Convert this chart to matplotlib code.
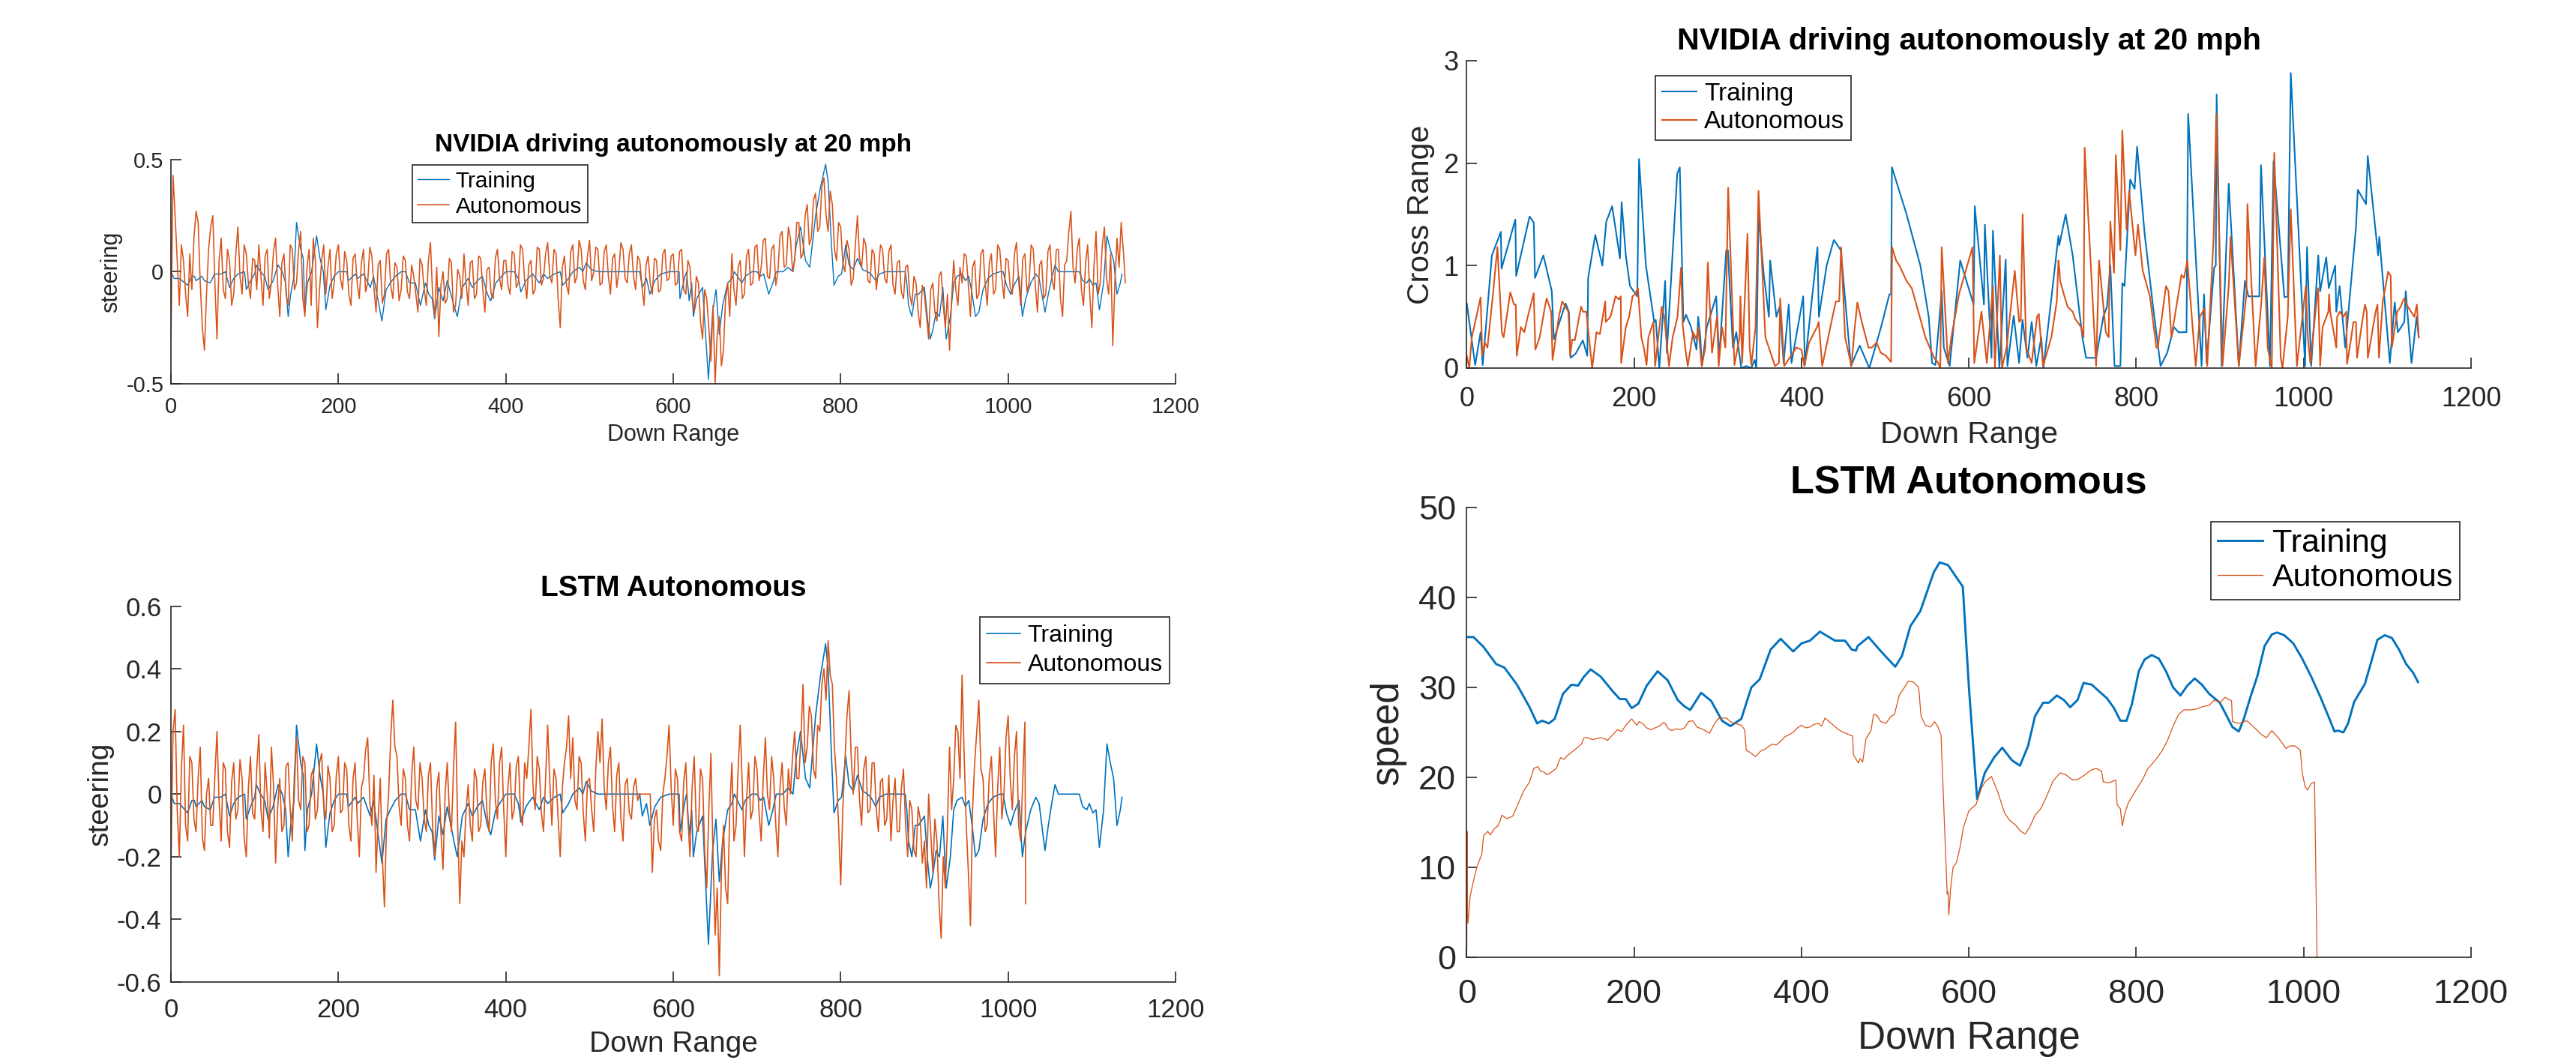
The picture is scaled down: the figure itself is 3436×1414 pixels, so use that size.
import matplotlib
matplotlib.use("Agg")
import matplotlib.pyplot as plt
import numpy as np

plt.rcParams['font.family'] = ['Liberation Sans', 'DejaVu Sans']
plt.rcParams['axes.unicode_minus'] = False

BLUE = '#0072BD'
ORANGE = '#D95319'
GREY = '#262626'

# ---------------- data ----------------
# training steering (same recording is shown in both steering panels)
train_steer = [
    (0, 0.0), (4, -0.03), (10, -0.03), (20, -0.06), (25, -0.02), (28, -0.02), (30, -0.04),
    (37, -0.02), (40, -0.04), (47, -0.05), (52, -0.01), (60, -0.01), (65, 0.0), (70, -0.07),
    (75, -0.03), (80, -0.01), (88, 0.0), (90, -0.08), (95, -0.04), (100, -0.01), (102, 0.03),
    (107, 0.0), (112, -0.02), (116, -0.08), (122, -0.04), (128, 0.03), (133, 0.0), (137, -0.05),
    (140, -0.2), (143, -0.1), (147, -0.02), (150, 0.22), (155, 0.1), (158, 0.06), (160, -0.18),
    (163, -0.05), (168, 0.0), (174, 0.16), (178, 0.06), (182, 0.0), (185, -0.17), (190, -0.06),
    (195, -0.02), (200, 0.0), (210, 0.0), (212, -0.04), (220, -0.01), (223, -0.03), (230, -0.01),
    (238, -0.07), (242, -0.02), (252, -0.22), (257, -0.08), (262, -0.05), (268, -0.02), (275, 0.0),
    (280, 0.0), (285, -0.05), (292, -0.05), (298, -0.15), (304, -0.05), (308, -0.1), (312, -0.12),
    (315, -0.21), (320, -0.07), (325, -0.13), (330, -0.04), (338, -0.15), (342, -0.2), (348, -0.07),
    (355, -0.03), (360, -0.07), (366, -0.04), (372, -0.02), (378, -0.1), (382, -0.13), (388, -0.05),
    (395, -0.02), (400, 0.0), (410, 0.0), (415, -0.03), (418, -0.09), (424, -0.04), (432, -0.01),
    (440, -0.05), (445, -0.01), (450, -0.03), (458, -0.01), (465, 0.0), (468, -0.06), (475, -0.03),
    (480, 0.0), (488, 0.02), (492, 0.0), (496, 0.04), (502, 0.01), (510, 0.0), (560, 0.0),
    (563, -0.07), (568, -0.03), (572, -0.1), (578, -0.04), (585, -0.01), (595, 0.0), (607, 0.0),
    (608, -0.12), (614, -0.02), (616, 0.0), (619, -0.13), (622, -0.05), (624, -0.2), (628, -0.12),
    (635, -0.07), (642, -0.48), (647, -0.18), (651, -0.08), (655, -0.28), (659, -0.15), (665, -0.05),
    (670, -0.03), (673, 0.0), (682, -0.05), (686, -0.02), (694, 0.0), (700, 0.0), (704, -0.02),
    (708, -0.01), (714, -0.1), (719, -0.05), (723, 0.0), (731, 0.0), (737, 0.02), (743, 0.0),
    (747, 0.12), (752, 0.2), (758, 0.05), (763, 0.02), (766, 0.12), (770, 0.25), (776, 0.38),
    (782, 0.48), (785, 0.4), (789, 0.12), (792, -0.06), (797, -0.02), (801, -0.01), (806, 0.12),
    (810, 0.03), (815, 0.01), (820, 0.06), (826, 0.01), (832, 0.0), (836, -0.01), (842, -0.04),
    (846, -0.01), (854, 0.0), (877, 0.0), (879, -0.05), (881, -0.15), (885, -0.2), (889, -0.1),
    (893, -0.1), (900, -0.07), (904, -0.22), (907, -0.3), (910, -0.26), (914, -0.18), (918, -0.2),
    (922, -0.07), (926, -0.3), (931, -0.2), (935, -0.05), (939, -0.02), (945, -0.01), (949, -0.04),
    (953, -0.02), (957, -0.1), (961, -0.2), (965, -0.18), (970, -0.08), (976, -0.03), (982, -0.01),
    (990, 0.0), (994, 0.0), (998, -0.06), (1003, -0.1), (1007, -0.06), (1013, -0.02), (1017, -0.2),
    (1021, -0.12), (1027, -0.05), (1033, -0.01), (1037, -0.03), (1044, -0.18), (1048, -0.1),
    (1052, -0.03), (1056, 0.03), (1060, 0.0), (1085, 0.0), (1089, -0.04), (1094, -0.05),
    (1097, -0.03), (1101, -0.06), (1105, -0.05), (1109, -0.17), (1114, -0.05), (1118, 0.16),
    (1122, 0.1), (1126, 0.05), (1130, -0.1), (1134, -0.05), (1136, -0.01),
]

# NVIDIA autonomous steering, one sample every 2.5 units of down range (0..1140)
nvidia_auto_steer = [
    -0.30, 0.43, 0.25, 0.05, -0.15, 0.12, 0.05, -0.10, -0.20, 0.08, -0.08, 0.15, 0.27, 0.22, -0.05, -0.25, -0.35, -0.10, 0.10, 0.20,
    0.25, -0.05, -0.30, 0.05, 0.15, -0.08, -0.12, 0.10, 0.05, -0.15, -0.10, 0.08, 0.20, -0.02, -0.10, 0.12, 0.08, -0.05, -0.12, 0.06,
    0.05, -0.08, 0.12, -0.02, -0.15, 0.07, 0.10, -0.12, -0.05, 0.09, 0.15, -0.06, -0.20, 0.04, 0.08, -0.10, -0.15, 0.12, 0.10, -0.08,
    -0.05, 0.10, 0.18, -0.12, -0.20, 0.02, 0.10, -0.15, 0.15, 0.05, -0.25, -0.08, 0.05, 0.12, -0.10, 0.02, 0.10, -0.12, -0.05, 0.08,
    0.12, -0.03, -0.08, 0.09, 0.05, -0.10, -0.15, 0.06, 0.08, -0.05, -0.12, 0.04, 0.10, -0.09, -0.05, 0.11, 0.07, -0.07, -0.18, 0.03,
    0.05, -0.14, -0.10, 0.08, 0.10, -0.06, -0.12, 0.04, 0.02, -0.13, -0.08, 0.07, 0.05, -0.09, -0.12, 0.03, -0.02, -0.10, -0.18, 0.06,
    0.03, -0.08, -0.15, 0.05, 0.13, -0.10, -0.20, 0.02, -0.29, -0.06, 0.00, -0.14, -0.12, 0.06, 0.04, -0.18, -0.15, 0.01, -0.02, -0.12,
    0.08, -0.05, -0.15, 0.04, 0.05, -0.12, -0.10, 0.07, 0.06, -0.08, -0.18, 0.01, 0.02, -0.10, -0.12, 0.06, 0.10, -0.03, -0.08, 0.05,
    0.05, -0.06, -0.10, 0.09, 0.08, -0.07, -0.05, 0.12, 0.10, -0.04, -0.12, 0.03, 0.05, -0.10, -0.08, 0.11, 0.10, -0.06, -0.03, 0.08,
    0.13, -0.02, -0.05, 0.10, 0.08, -0.12, -0.25, 0.02, 0.07, -0.06, -0.10, 0.09, 0.12, -0.05, -0.02, 0.14, 0.10, -0.04, -0.08, 0.07,
    0.14, -0.04, 0.00, 0.11, 0.10, -0.06, -0.05, 0.09, 0.12, -0.02, -0.10, 0.06, 0.08, -0.07, 0.00, 0.13, 0.10, -0.03, -0.05, 0.08,
    0.12, -0.02, -0.08, 0.07, 0.05, -0.06, -0.15, 0.03, 0.07, -0.05, -0.10, 0.06, 0.05, -0.09, -0.08, 0.08, 0.10, -0.04, -0.03, 0.07,
    0.08, -0.06, -0.05, 0.09, 0.10, -0.08, -0.10, 0.05, 0.02, -0.12, -0.18, -0.02, -0.05, -0.22, -0.30, -0.08, -0.12, -0.25, -0.40, -0.15,
    -0.50, -0.28, -0.20, -0.42, -0.35, -0.12, -0.05, -0.20, 0.08, -0.08, -0.15, 0.02, 0.05, -0.12, -0.10, 0.07, 0.10, -0.06, -0.05, 0.11,
    0.12, -0.04, 0.02, 0.14, 0.15, -0.02, -0.03, 0.10, 0.12, -0.06, 0.00, 0.16, 0.18, 0.02, 0.03, 0.20, 0.15, 0.00, 0.05, 0.22,
    0.22, 0.06, 0.08, 0.25, 0.30, 0.12, 0.15, 0.32, 0.35, 0.18, 0.20, 0.38, 0.42, 0.25, 0.18, 0.36, 0.30, 0.10, 0.05, 0.22,
    0.20, 0.04, 0.00, 0.14, 0.10, -0.06, -0.03, 0.12, 0.25, 0.06, 0.02, 0.15, 0.12, -0.04, -0.05, 0.10, 0.08, -0.08, 0.00, 0.12,
    0.10, -0.03, -0.05, 0.09, 0.12, -0.06, -0.10, 0.04, 0.05, -0.09, -0.12, 0.02, 0.03, -0.10, -0.15, -0.02, -0.05, -0.18, -0.25, -0.06,
    -0.10, -0.20, -0.30, -0.08, -0.05, -0.18, -0.22, -0.02, 0.00, -0.15, -0.25, -0.10, -0.35, -0.12, 0.05, -0.08, -0.15, 0.02, -0.05, 0.08,
    0.07, -0.06, -0.20, 0.02, 0.05, -0.12, -0.10, 0.08, 0.10, -0.05, -0.15, 0.04, 0.08, -0.10, -0.08, 0.12, 0.10, -0.03, -0.12, 0.06,
    0.05, -0.07, -0.10, 0.08, 0.13, -0.04, -0.15, 0.06, 0.08, -0.09, -0.05, 0.12, 0.10, -0.06, -0.18, 0.03, 0.05, -0.12, -0.10, 0.09,
    0.12, -0.04, -0.08, 0.10, 0.10, -0.12, -0.20, 0.03, 0.05, 0.18, 0.27, 0.02, -0.05, 0.10, 0.15, -0.08, -0.15, 0.04, 0.12, -0.10,
    -0.25, 0.02, 0.18, -0.10, -0.05, 0.12, 0.20, -0.03, -0.10, 0.08, -0.33, -0.05, 0.15, 0.02, 0.22, 0.10, -0.05,
]

# LSTM autonomous steering, every 2.5 units (0..1020) plus the final sample at 1021
lstm_auto_steer = [
    -0.23, 0.20, 0.27, -0.05, -0.20, 0.08, 0.22, -0.10, -0.15, 0.12, 0.10, -0.08, -0.12, 0.05, 0.15, -0.14, -0.18, 0.00, 0.05, -0.10,
    -0.10, 0.06, 0.20, -0.02, -0.15, 0.10, 0.08, -0.12, -0.17, 0.04, 0.10, -0.08, -0.05, 0.11, 0.05, -0.14, -0.20, 0.02, 0.12, -0.06,
    -0.08, 0.08, 0.19, -0.05, -0.12, 0.10, 0.00, -0.14, 0.15, 0.03, -0.22, -0.04, 0.05, -0.12, -0.10, 0.09, 0.10, -0.05, -0.15, 0.07,
    0.18, -0.02, -0.05, 0.12, 0.10, -0.12, -0.10, 0.06, 0.08, -0.08, -0.05, 0.10, 0.13, -0.04, -0.08, 0.09, 0.05, -0.12, -0.10, 0.06,
    0.12, -0.06, -0.05, 0.10, 0.08, -0.10, -0.15, 0.05, 0.10, -0.08, -0.20, 0.02, 0.05, 0.14, 0.18, -0.02, -0.10, 0.06, -0.25, -0.08,
    0.05, -0.20, -0.36, -0.10, 0.00, 0.18, 0.30, 0.15, 0.12, -0.04, -0.10, 0.08, 0.05, -0.10, -0.15, 0.06, 0.15, -0.02, -0.05, 0.10,
    0.05, -0.08, -0.12, 0.06, 0.10, -0.10, -0.20, 0.02, 0.07, -0.12, -0.24, 0.00, 0.10, -0.05, -0.12, 0.08, 0.23, -0.10, -0.35, -0.15,
    -0.20, -0.05, 0.03, -0.10, -0.15, 0.08, 0.05, -0.12, -0.10, 0.04, 0.08, -0.06, -0.12, 0.10, 0.16, -0.02, -0.08, 0.10, 0.15, -0.05,
    -0.20, 0.02, 0.10, -0.08, -0.05, 0.09, 0.12, -0.06, -0.10, 0.10, 0.05, 0.15, 0.27, 0.02, -0.05, 0.12, 0.08, -0.06, -0.12, 0.05,
    0.22, 0.04, -0.10, 0.08, 0.05, -0.08, -0.20, 0.02, 0.10, 0.15, 0.25, 0.05, 0.18, -0.02, -0.05, 0.12, 0.10, -0.06, -0.15, 0.04,
    0.05, -0.05, -0.12, 0.08, 0.20, 0.10, 0.24, 0.02, -0.05, 0.10, 0.15, -0.04, -0.12, 0.06, 0.10, -0.08, -0.15, 0.03, 0.05, -0.06,
    -0.08, 0.02, 0.05, -0.02, 0.00, 0.00, 0.00, 0.00, 0.00, 0.00, -0.25, -0.08, -0.05, -0.15, -0.18, 0.00, 0.05, 0.12, 0.22, 0.02,
    -0.10, 0.08, 0.05, -0.12, -0.15, 0.04, 0.10, -0.08, -0.20, 0.02, 0.12, -0.10, -0.12, 0.08, 0.05, -0.18, -0.30, -0.05, 0.13, -0.20,
    -0.45, -0.30, -0.58, -0.25, -0.10, -0.30, -0.35, -0.05, 0.10, -0.15, -0.10, 0.08, 0.22, 0.02, -0.20, -0.02, 0.10, -0.08, -0.05, 0.12,
    0.08, -0.06, -0.15, 0.05, 0.18, 0.00, -0.05, 0.12, 0.05, -0.10, -0.20, 0.02, 0.10, -0.04, -0.10, 0.08, 0.00, 0.12, 0.20, 0.05,
    0.05, 0.18, 0.35, 0.10, 0.15, 0.28, 0.25, 0.08, 0.05, 0.22, 0.20, 0.35, 0.40, 0.30, 0.49, 0.38, 0.35, 0.15, 0.05, -0.10,
    -0.29, -0.05, 0.10, 0.25, 0.33, 0.12, 0.00, 0.15, 0.15, -0.02, -0.10, 0.08, 0.12, -0.06, -0.05, 0.10, 0.10, -0.05, -0.12, 0.04,
    0.05, -0.10, -0.08, 0.06, -0.15, -0.02, 0.05, -0.12, -0.12, 0.02, 0.08, -0.10, -0.20, -0.02, -0.05, -0.18, -0.20, -0.04, -0.08, -0.22,
    -0.15, -0.30, 0.00, -0.12, -0.25, -0.08, -0.15, -0.35, -0.46, -0.20, -0.30, -0.10, 0.15, -0.05, 0.05, 0.22, 0.20, 0.05, 0.38, 0.12,
    -0.10, -0.25, -0.42, -0.05, 0.10, 0.20, 0.30, 0.08, 0.05, -0.12, -0.10, 0.06, 0.12, -0.05, -0.20, 0.02, 0.15, -0.08, 0.00, 0.18,
    0.25, 0.05, -0.05, 0.12, 0.20, -0.10, -0.15, 0.05, 0.23, -0.35,
]

# cross range, (down range, cross range)
train_cross = [
    (0, 0.63), (10, 0.03), (16.5, 0.35), (19, 0.03), (30, 1.1), (40.7, 1.33), (41.5, 0.97),
    (58, 1.45), (59, 0.9), (75, 1.48), (80, 1.42), (81.5, 0.88), (91.5, 1.1), (101.6, 0.75),
    (104, 0.28), (118, 0.63), (122, 0.55), (124, 0.1), (130, 0.14), (138.7, 0.27), (144, 0.12),
    (145, 0.88), (153.5, 1.3), (162, 1.0), (166.7, 1.43), (173.7, 1.58), (183, 1.07), (185, 1.62),
    (190, 1.1), (195, 0.8), (203.7, 0.7), (205.8, 2.04), (214, 1.0), (224, 0.45), (225.8, 0.47),
    (230, 0.0), (237, 0.85), (239, 0.15), (251.5, 1.9), (254.5, 1.96), (258.8, 0.45), (262, 0.52),
    (268, 0.4), (274.5, 0.18), (276.5, 0.5), (279, 0.3), (281, 0.02), (286.8, 0.4), (298, 0.7),
    (301.6, 0.1), (310, 1.15), (312, 1.15), (318, 0.2), (322, 0.35), (328, 0.0), (334, 0.02),
    (340, 0.0), (344, 0.08), (346, 0.0), (348.6, 1.5), (355, 0.9), (361, 0.5), (362.5, 1.05),
    (370, 0.5), (374, 0.6), (378.6, 0.05), (384.7, 0.62), (388, 0.05), (402, 0.7), (404, 0.03),
    (419, 1.18), (420.7, 0.5), (430, 1.0), (438.6, 1.25), (447, 1.15), (459, 0.02), (469.5, 0.22),
    (481, 0.0), (495, 0.4), (505, 0.72), (507, 0.72), (508, 1.96), (525.5, 1.5), (542, 1.0),
    (552, 0.5), (556, 0.05), (560, 0.03), (567.5, 0.75), (570, 0.2), (577, 0.02), (589.6, 1.05),
    (605.6, 0.62), (607, 1.58), (618, 0.62), (619, 1.4), (627, 0.1), (628.7, 1.34), (636.4, 0.0),
    (644, 1.06), (646, 0.02), (653.5, 0.51), (660, 0.05), (664, 0.47), (670, 0.1), (675, 0.45),
    (680.5, 0.02), (686.5, 0.3), (689, 0.0), (707, 1.29), (708, 1.2), (715.6, 1.5), (724, 1.1),
    (735.8, 0.29), (740, 0.1), (752, 0.1), (760.6, 0.5), (765, 0.6), (769, 1.0), (774, 0.02),
    (781, 0.02), (783.3, 0.83), (786, 0.8), (792.7, 1.84), (798, 1.75), (801, 2.16), (810, 1.31),
    (820, 0.6), (829, 0.02), (837, 0.15), (845, 0.4), (850.5, 0.35), (860, 0.35), (862, 2.48),
    (878, 0.02), (881, 0.72), (884, 0.05), (893, 0.98), (895, 1.0), (896, 2.67), (902, 0.02),
    (910.5, 1.8), (922.5, 0.02), (929.8, 0.85), (934, 0.7), (947, 0.7), (949, 1.98), (959.7, 0.02),
    (964, 2.02), (977, 0.69), (981, 0.7), (984.6, 2.88), (1001.7, 0.02), (1004, 1.18), (1009, 0.02),
    (1017.5, 1.1), (1019.7, 0.75), (1027, 1.08), (1030, 0.78), (1037.7, 1.0), (1039, 0.55),
    (1043, 0.8), (1049.7, 0.2), (1062.5, 1.37), (1064.7, 1.74), (1074.5, 1.6), (1076.6, 2.07),
    (1089, 1.1), (1090.4, 1.28), (1103, 0.05), (1108.8, 0.64), (1112.6, 0.35), (1120.3, 0.45),
    (1122, 0.75), (1128.9, 0.05), (1135, 0.5), (1137.5, 0.3),
]

auto_cross = [
    (0, 0.12), (3, 0.0), (6, 0.3), (16.5, 0.69), (18.5, 0.12), (21.4, 0.25), (24.7, 0.2),
    (31, 0.7), (36.6, 1.18), (42, 0.34), (44, 0.3), (52, 0.74), (56.4, 0.62), (58.5, 0.62),
    (59.7, 0.12), (64.6, 0.4), (68.7, 0.35), (72.8, 0.5), (80, 0.73), (81.9, 0.18), (87, 0.3),
    (93.4, 0.6), (95.5, 0.68), (100.8, 0.55), (102.5, 0.08), (110, 0.5), (114, 0.65), (121.4, 0.55),
    (123.5, 0.12), (126, 0.28), (129, 0.27), (136.6, 0.6), (138.7, 0.55), (142.8, 0.55),
    (149.8, 0.0), (155, 0.35), (159, 0.33), (165.4, 0.65), (166, 0.45), (171.6, 0.5), (177.8, 0.7),
    (181.9, 0.67), (184, 0.7), (184.5, 0.05), (190, 0.4), (194, 0.5), (198, 0.7), (201, 0.72),
    (204.5, 0.78), (208.6, 0.3), (211.5, 0.2), (214.8, 0.03), (217, 0.3), (223, 0.45), (225, 0.02),
    (233, 0.6), (236, 0.5), (241.6, 0.02), (246, 0.3), (251.8, 0.5), (256, 0.98), (258, 0.42),
    (261, 0.2), (264, 0.02), (270.4, 0.35), (274.5, 0.28), (276.5, 0.4), (280.7, 0.02), (285, 0.2),
    (288, 1.03), (293, 0.15), (299, 0.5), (301, 0.02), (305, 0.4), (309, 0.2), (312.3, 1.76),
    (319.8, 0.03), (326, 0.3), (327, 0.7), (329, 0.05), (335.4, 1.31), (338, 0.2), (340, 0.03),
    (345, 0.4), (348.6, 1.73), (356.8, 0.3), (368.3, 0.02), (373, 0.05), (374.5, 0.68),
    (379.4, 0.02), (393.8, 0.2), (400, 0.18), (403.3, 0.02), (409, 0.25), (418.5, 0.4),
    (420.5, 0.45), (424.7, 0.02), (437, 0.5), (441, 0.65), (445, 0.65), (447.3, 1.18), (452, 0.3),
    (459.7, 0.02), (463, 0.35), (466.7, 0.64), (472, 0.45), (480, 0.2), (484, 0.2), (489.7, 0.25),
    (494.6, 0.15), (500.8, 0.12), (507, 0.06), (508.2, 1.18), (513, 1.05), (517, 1.0),
    (525.5, 0.85), (531.7, 0.78), (537.9, 0.6), (548, 0.3), (558.4, 0.1), (562.6, 0.06),
    (565.8, 0.0), (567.5, 1.18), (575, 0.05), (579, 0.3), (588.4, 0.73), (604.3, 1.18),
    (606.4, 0.05), (615, 0.55), (621.4, 0.05), (628.7, 0.8), (631, 0.0), (637, 1.1), (639.5, 0.0),
    (645, 0.2), (654.8, 0.95), (660, 0.45), (662, 0.47), (664.2, 1.5), (668.5, 0.2), (675, 0.05),
    (681.4, 0.5), (683.5, 0.53), (688.6, 0.02), (698.5, 0.3), (705, 0.65), (707, 1.05),
    (708.3, 0.95), (709, 0.85), (713.5, 0.72), (717.8, 0.6), (724, 0.55), (727, 0.48), (734, 0.4),
    (737, 0.3), (738.3, 2.15), (752, 0.02), (755.5, 1.05), (763.6, 0.35), (767, 0.3), (769, 1.43),
    (773.4, 0.93), (775.6, 2.08), (781, 1.15), (783.3, 2.32), (788.4, 1.35), (791.4, 1.73),
    (799, 1.1), (802, 1.4), (807.7, 0.95), (816.3, 0.7), (824, 0.2), (825.7, 0.2), (835.5, 0.8),
    (838.5, 0.75), (842, 0.3), (854, 0.91), (857, 0.88), (861, 1.05), (871, 0.02), (876, 0.5),
    (881.4, 0.58), (884.8, 0.02), (892.5, 1.3), (895.5, 2.48), (903, 0.02), (910.5, 0.8),
    (912.6, 1.28), (922.5, 0.02), (931.6, 0.72), (932.8, 1.6), (942.6, 0.02), (949, 0.6),
    (953, 1.08), (957, 0.2), (961.9, 0.0), (964.9, 2.1), (972.6, 0.1), (974.7, 0.0), (981, 0.5),
    (984.6, 1.55), (991.9, 0.02), (1002.6, 0.8), (1005, 0.3), (1008, 0.05), (1016, 0.7),
    (1017.3, 0.78), (1019.7, 0.02), (1022.6, 0.4), (1029.5, 0.55), (1030.4, 0.72), (1031.7, 0.55),
    (1039, 0.2), (1040, 0.5), (1043.1, 0.55), (1047.4, 0.5), (1050.9, 0.55), (1051.8, 0.04),
    (1056, 0.25), (1059.5, 0.45), (1062.5, 0.45), (1063.8, 0.1), (1069, 0.4), (1073.2, 0.62),
    (1075.4, 0.55), (1076.7, 0.1), (1086, 0.55), (1088.2, 0.62), (1090, 0.1), (1094.5, 0.65),
    (1101, 0.94), (1104, 0.9), (1105.4, 0.2), (1111.8, 0.55), (1116, 0.6), (1120, 0.68),
    (1124.4, 0.6), (1132.3, 0.5), (1135.3, 0.62), (1137.5, 0.3),
]

# speed, (down range, speed)
train_speed = [
    (0, 35.6), (8, 35.6), (20, 34.5), (35, 32.6), (45, 32.2), (60, 30.3), (75, 27.8), (84, 26.0),
    (90, 26.3), (98, 26.0), (105, 26.5), (115, 29.3), (125, 30.3), (133, 30.2), (140, 31.2),
    (148, 32.0), (160, 31.2), (175, 29.5), (183, 28.7), (190, 28.7), (197, 27.7), (205, 28.2),
    (215, 30.2), (228, 31.8), (240, 30.8), (252, 28.6), (260, 27.9), (267, 27.5), (280, 29.4),
    (292, 28.5), (305, 26.3), (315, 25.7), (328, 26.5), (340, 30.0), (350, 30.9), (363, 34.2),
    (375, 35.4), (390, 34.0), (400, 34.9), (410, 35.2), (422, 36.2), (440, 35.2), (452, 35.2),
    (460, 34.2), (465, 34.1), (467, 34.6), (480, 35.6), (495, 34.0), (512, 32.3), (520, 33.5),
    (530, 36.8), (542, 38.5), (558, 42.8), (565, 43.9), (575, 43.6), (592.7, 41.2), (600, 30.0),
    (609.8, 17.6), (619, 20.5), (630, 22.2), (639.8, 23.3), (651.4, 21.9), (661, 21.3),
    (670.7, 23.5), (679, 26.8), (688.7, 28.3), (695.5, 28.3), (705, 29.1), (713.5, 28.6),
    (721, 27.8), (729.8, 28.6), (737, 30.5), (746.9, 30.3), (756.3, 29.5), (764.9, 28.8),
    (773.4, 27.7), (781, 26.3), (788.4, 26.3), (794.9, 28.2), (803, 31.8), (809.9, 33.1),
    (818.4, 33.6), (827, 33.2), (835.5, 31.8), (844, 30.0), (852.7, 29.1), (861, 30.2),
    (869.8, 31.0), (878.4, 30.3), (887, 29.3), (893.4, 28.8), (899.8, 28.3), (906, 27.2),
    (914.8, 25.6), (922.5, 25.1), (928.5, 26.5), (936, 28.8), (944.8, 31.3), (953.3, 34.6),
    (962, 35.9), (968.3, 36.1), (976.9, 35.8), (987.6, 34.9), (998.3, 33.2), (1009, 31.2),
    (1019.7, 29.0), (1030.4, 26.6), (1036.8, 25.1), (1041, 25.2), (1047.5, 25.0), (1053.1, 26.0),
    (1060.4, 28.4), (1073.2, 30.4), (1079.7, 32.5), (1088.2, 35.3), (1096.8, 35.8), (1105.4, 35.5),
    (1114, 34.2), (1122.5, 32.6), (1131, 31.6), (1136.6, 30.6),
]

auto_speed = [
    (0, 1.0), (0.5, 14.0), (1, 3.8), (2, 4.5), (4, 6.8), (8, 8.5), (12, 10.0), (16, 11.0),
    (18, 11.5), (20, 13.5), (25, 14.0), (28, 13.6), (33, 14.3), (37, 14.6), (40, 15.2), (42, 15.8),
    (48, 15.4), (55, 15.7), (62, 17.2), (68, 18.5), (75, 19.5), (80, 21.0), (85, 21.2), (88, 20.7),
    (92, 20.6), (96, 20.3), (100, 20.5), (107, 21.0), (112, 22.2), (116, 22.0), (120, 22.4),
    (128, 23.0), (137, 23.7), (140, 24.4), (145, 24.4), (150, 24.2), (155, 24.3), (160, 24.4),
    (165, 24.3), (168, 24.1), (173, 24.6), (180, 25.3), (185, 25.1), (190, 25.8), (197, 26.5),
    (203, 25.8), (206, 26.2), (210, 26.0), (215, 25.5), (220, 25.3), (225, 25.5), (230, 25.7),
    (235, 26.1), (237, 26.0), (241, 25.4), (245, 25.2), (250, 25.4), (255, 25.3), (260, 25.5),
    (265, 26.2), (270, 26.3), (275, 25.6), (283, 25.3), (290, 24.9), (295, 25.8), (300, 26.5),
    (305, 26.6), (310, 26.6), (315, 26.2), (320, 26.0), (328, 25.8), (332, 25.3), (334, 23.0),
    (338, 22.8), (345, 22.3), (352, 23.0), (356, 23.1), (360, 23.4), (365, 23.7), (370, 23.6),
    (375, 24.0), (380, 24.5), (386, 24.8), (390, 25.0), (395, 25.5), (400, 25.8), (405, 25.5),
    (410, 25.6), (415, 25.9), (420, 26.0), (424, 25.7), (428, 26.6), (433, 26.2), (438, 25.8),
    (443, 25.4), (448, 25.1), (453, 24.9), (458, 24.7), (461, 24.6), (462, 22.5), (466, 21.9),
    (468, 21.6), (470, 22.1), (473, 21.7), (477, 24.3), (483, 25.2), (486, 27.0), (490, 26.9),
    (494.6, 26.2), (500.8, 26.0), (507, 26.8), (511, 27.0), (517, 29.2), (523, 30.0),
    (527.6, 30.7), (533.7, 30.6), (540, 30.0), (542.8, 26.8), (548, 25.8), (554, 25.6),
    (559, 26.2), (563, 25.6), (566.7, 24.7), (574, 7.0), (575, 7.3), (576, 4.7), (578, 7.5),
    (581, 10.0), (585, 10.5), (589.3, 12.2), (593.6, 14.5), (600, 16.3), (608.6, 17.0),
    (615, 18.8), (619.3, 19.5), (627, 20.1), (634, 18.5), (642.8, 16.0), (649, 15.2),
    (655.7, 14.7), (662, 14.0), (667.2, 13.7), (672.8, 14.5), (679, 15.8), (685.7, 16.5),
    (692, 17.7), (700.6, 19.6), (709, 20.5), (715.6, 20.3), (724, 19.7), (730.6, 19.8),
    (739, 20.3), (745.6, 20.8), (752, 21.0), (758.5, 20.7), (760.6, 19.5), (767, 19.4),
    (775.6, 19.7), (777, 17.0), (781, 16.5), (783.3, 14.6), (786.3, 16.0), (790.6, 17.2),
    (799, 18.5), (807.7, 19.8), (814, 21.0), (822.7, 21.9), (831.3, 23.0), (837.7, 24.2),
    (844, 25.7), (850.5, 27.0), (857, 27.5), (865.5, 27.5), (872, 27.6), (880.5, 27.9),
    (887, 28.0), (893.4, 28.6), (899.8, 28.3), (906, 28.9), (913.9, 28.5), (914.8, 26.2),
    (923, 26.0), (932, 26.3), (940.5, 25.6), (949, 24.8), (955.5, 24.4), (962, 25.2),
    (970.6, 24.3), (979, 23.2), (983.3, 23.5), (989.7, 23.5), (996, 23.0), (998.3, 20.5),
    (1001.7, 19.0), (1004.7, 18.6), (1009, 19.3), (1013, 19.5), (1016, 0.0),
]

x_ticks = [0, 200, 400, 600, 800, 1000, 1200]


def style_axes(ax, tick_size, xpad, ypad):
    for side in ['top', 'right']:
        ax.spines[side].set_visible(False)
    for side in ['left', 'bottom']:
        ax.spines[side].set_color(GREY)
        ax.spines[side].set_linewidth(1.2)
    ax.tick_params(direction='in', length=10, width=1.2, colors=GREY, labelsize=tick_size)
    ax.tick_params(axis='x', pad=xpad)
    ax.tick_params(axis='y', pad=ypad)
    ax.set_xlim(0, 1200)
    ax.set_xticks(x_ticks)


def add_legend(ax, anchor, size, spacing=0.15, bpad=0.2):
    leg = ax.legend(loc='upper left', bbox_to_anchor=anchor, fontsize=size, frameon=True,
                    fancybox=False, edgecolor=GREY, framealpha=1, borderaxespad=0,
                    handlelength=1.4, handletextpad=0.3, borderpad=bpad, labelspacing=spacing)
    leg.get_frame().set_linewidth(1.2)


fig = plt.figure(figsize=(34.36, 14.14), dpi=100)

ax_tl = fig.add_axes([0.06636, 0.63791, 0.39000, 0.21146])
ax_tr = fig.add_axes([0.56941, 0.65276, 0.38984, 0.28996])
ax_bl = fig.add_axes([0.06636, 0.07355, 0.39000, 0.35460])
ax_br = fig.add_axes([0.56941, 0.09689, 0.38984, 0.42433])

ts_x, ts_y = zip(*train_steer)
nv_x = np.arange(0, 1140.1, 2.5)
ls_x = np.append(np.arange(0, 1020.1, 2.5), 1021)

# top left: NVIDIA steering
ax_tl.plot(ts_x, ts_y, color=BLUE, lw=1.0, label='Training')
ax_tl.plot(nv_x, nvidia_auto_steer, color=ORANGE, lw=1.15, label='Autonomous')
style_axes(ax_tl, 21, 12, 7)
ax_tl.set_ylim(-0.5, 0.5)
ax_tl.set_yticks([-0.5, 0, 0.5])
ax_tl.set_yticklabels(['-0.5', '0', '0.5'])
ax_tl.set_title('NVIDIA driving autonomously at 20 mph', fontsize=24, fontweight='bold', pad=8)
ax_tl.set_xlabel('Down Range', fontsize=22, color=GREY, labelpad=6)
ax_tl.set_ylabel('steering', fontsize=22, color=GREY, labelpad=4)
add_legend(ax_tl, (0.240, 0.975), 21.5, spacing=0.2, bpad=0.25)

# top right: cross range
tc_x, tc_y = zip(*train_cross)
ac_x, ac_y = zip(*auto_cross)
ax_tr.plot(tc_x, tc_y, color=BLUE, lw=1.5, label='Training')
ax_tr.plot(ac_x, ac_y, color=ORANGE, lw=1.5, label='Autonomous')
style_axes(ax_tr, 26, 17, 8)
ax_tr.set_ylim(0, 3)
ax_tr.set_yticks([0, 1, 2, 3])
ax_tr.set_title('NVIDIA driving autonomously at 20 mph', fontsize=29.5, fontweight='bold', pad=10.5)
ax_tr.set_xlabel('Down Range', fontsize=29.5, color=GREY, labelpad=8)
ax_tr.set_ylabel('Cross Range', fontsize=29.5, color=GREY, labelpad=8)
add_legend(ax_tr, (0.188, 0.950), 24, spacing=0.2, bpad=0.25)

# bottom left: LSTM steering
ax_bl.plot(ts_x, ts_y, color=BLUE, lw=1.2, label='Training')
ax_bl.plot(ls_x, lstm_auto_steer, color=ORANGE, lw=1.2, label='Autonomous')
style_axes(ax_bl, 25, 15, 9)
ax_bl.set_ylim(-0.6, 0.6)
ax_bl.set_yticks([-0.6, -0.4, -0.2, 0, 0.2, 0.4, 0.6])
ax_bl.set_yticklabels(['-0.6', '-0.4', '-0.2', '0', '0.2', '0.4', '0.6'])
ax_bl.set_title('LSTM Autonomous', fontsize=28, fontweight='bold', pad=10)
ax_bl.set_xlabel('Down Range', fontsize=28, color=GREY, labelpad=8)
ax_bl.set_ylabel('steering', fontsize=28, color=GREY, labelpad=3)
add_legend(ax_bl, (0.805, 0.971), 23, spacing=0.3, bpad=0.3)

# bottom right: speed
sp_x, sp_y = zip(*train_speed)
as_x, as_y = zip(*auto_speed)
ax_br.plot(sp_x, sp_y, color=BLUE, lw=2.1, label='Training')
ax_br.plot(as_x, as_y, color=ORANGE, lw=0.9, label='Autonomous')
style_axes(ax_br, 32.5, 21, 10.5)
ax_br.set_ylim(0, 50)
ax_br.set_yticks([0, 10, 20, 30, 40, 50])
ax_br.set_title('LSTM Autonomous', fontsize=37.5, fontweight='bold', pad=13)
ax_br.set_xlabel('Down Range', fontsize=37, color=GREY, labelpad=10)
ax_br.set_ylabel('speed', fontsize=37, color=GREY, labelpad=12)
add_legend(ax_br, (0.741, 0.968), 31)

fig.savefig('out.png', dpi=100)
